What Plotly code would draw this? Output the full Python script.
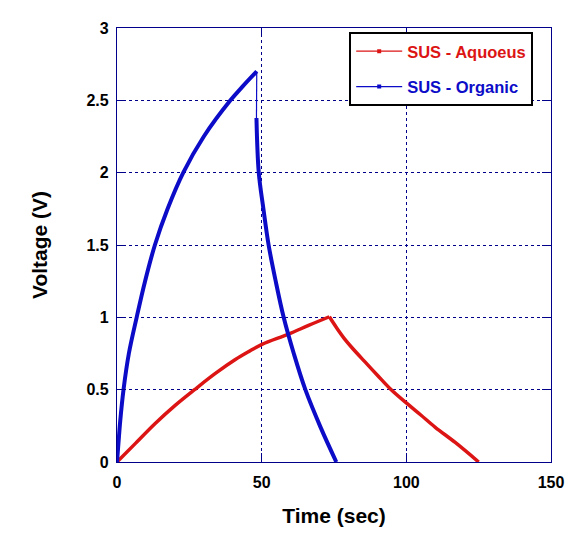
import plotly.graph_objects as go

# ---- data ----
aq_charge_time = [0, 6.3, 13.2, 20.2, 26.8, 34.0, 40.9, 45.5, 50.1, 59.3, 66.2, 73.4]
aq_charge_volt = [0, 0.127, 0.266, 0.393, 0.50, 0.612, 0.708, 0.763, 0.813, 0.884, 0.944, 1.004]

aq_dis_time = [73.4, 76.0, 78.5, 81.0, 85.8, 90.0, 94.5, 100.2, 105.0, 110.0, 116.9, 125.0]
aq_dis_volt = [1.004, 0.925, 0.855, 0.795, 0.69, 0.60, 0.505, 0.405, 0.325, 0.24, 0.135, 0.0]

org_charge_time = [0, 0.5, 1.1, 2.25, 4.1, 6.8, 9.7, 13.1, 17.5, 22.9, 30.0, 39.2, 43.6, 48.3]
org_charge_volt = [0, 0.13, 0.28, 0.50, 0.75, 1.0, 1.25, 1.5, 1.75, 2.0, 2.25, 2.5, 2.6, 2.70]

org_dis_time = [48.2, 49.0, 50.6, 52.4, 54.85, 57.6, 61.1, 65.1, 70.3, 75.8]
org_dis_volt = [2.378, 2.0, 1.75, 1.5, 1.25, 1.0, 0.75, 0.5, 0.243, 0.0]

series_names = ["SUS - Aquoeus", "SUS - Organic"]
x_ticks = [0, 50, 100, 150]
y_ticks = [0, 0.5, 1, 1.5, 2, 2.5, 3]
y_tick_labels = ["0", "0.5", "1", "1.5", "2", "2.5", "3"]

RED = "#DC1414"
BLUE = "#0C0CC8"
NAVY = "#00008B"
FONT = "Liberation Sans, Arial, sans-serif"

fig = go.Figure()

def curve(x, y, col, w):
    fig.add_trace(go.Scatter(x=x, y=y, mode="lines",
                             line=dict(color=col, width=w, shape="spline",
                                       smoothing=1.0, simplify=False),
                             showlegend=False, hoverinfo="skip"))

curve(aq_charge_time, aq_charge_volt, RED, 3.5)
curve(aq_dis_time, aq_dis_volt, RED, 3.5)
curve(org_charge_time, org_charge_volt, BLUE, 4)
# thin IR-drop connector between organic charge end and discharge start
fig.add_trace(go.Scatter(x=[org_charge_time[-1], org_dis_time[0]],
                         y=[org_charge_volt[-1], org_dis_volt[0]], mode="lines",
                         line=dict(color=BLUE, width=1.2),
                         showlegend=False, hoverinfo="skip"))
curve(org_dis_time, org_dis_volt, BLUE, 4)

# legend-only entries (thin line with small marker), text coloured like the series
for name, col in zip(series_names, [RED, BLUE]):
    fig.add_trace(go.Scatter(x=[None], y=[None], mode="lines+markers",
                             name=f"<span style='color:{col}'>{name}</span>",
                             line=dict(color=col, width=1.2),
                             marker=dict(color=col, size=4, symbol="square"),
                             legendgroup=name))

axis_common = dict(
    showline=True, linecolor=NAVY, linewidth=1.2, mirror="all",
    ticks="inside", ticklen=9, tickcolor=NAVY, tickwidth=1.2,
    showgrid=True, gridcolor=NAVY, gridwidth=1, griddash="3px,3px",
    zeroline=False,
    tickfont=dict(family=FONT, size=16, color="black", weight="bold"),
)

fig.update_xaxes(range=[0, 150], tickvals=x_ticks, ticktext=[str(v) for v in x_ticks],
                 ticklabelstandoff=6,
                 title=dict(text="Time (sec)", standoff=18,
                            font=dict(family=FONT, size=21, color="black", weight="bold")),
                 **axis_common)
fig.update_yaxes(range=[0, 3], tickvals=y_ticks, ticktext=y_tick_labels,
                 ticklabelstandoff=4,
                 title=dict(text="Voltage (V)", standoff=33,
                            font=dict(family=FONT, size=21, color="black", weight="bold")),
                 **axis_common)

fig.update_layout(
    width=587, height=550,
    margin=dict(l=109, r=44, t=20, b=96),
    paper_bgcolor="white", plot_bgcolor="white",
    legend=dict(x=0.535, y=0.991, xanchor="left", yanchor="top",
                bgcolor="white", bordercolor="black", borderwidth=2,
                traceorder="grouped", tracegroupgap=11, itemwidth=46,
                font=dict(family=FONT, size=16.5, weight="bold")),
    showlegend=True,
)

fig.write_html("out.html")
